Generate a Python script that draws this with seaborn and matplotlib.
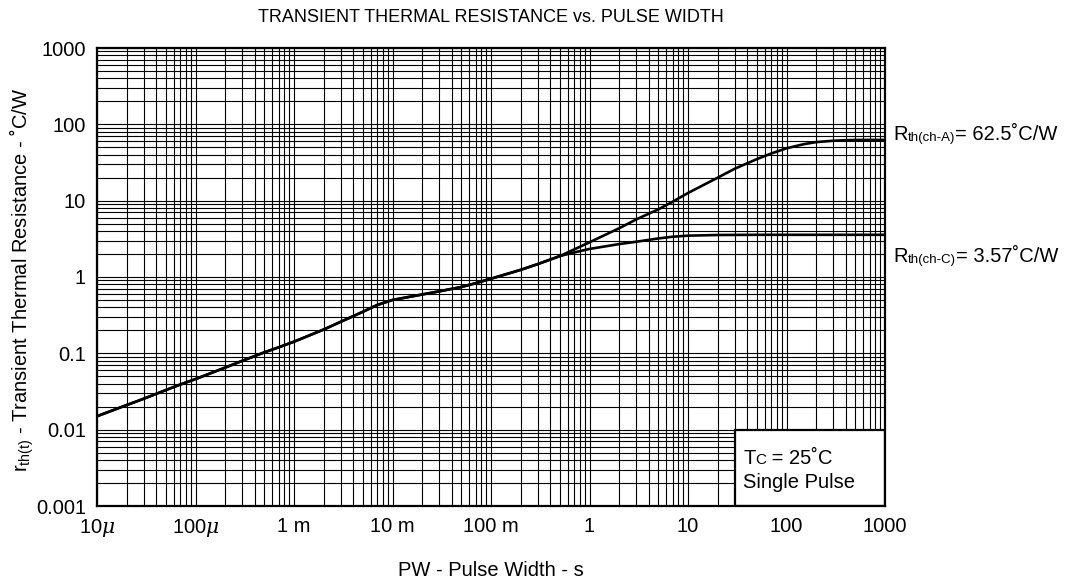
import matplotlib
matplotlib.use("Agg")
import matplotlib.pyplot as plt
import numpy as np
import pandas as pd
import seaborn as sns
from matplotlib.ticker import FixedLocator, FixedFormatter, LogLocator, NullFormatter
from matplotlib.offsetbox import TextArea, HPacker, AnnotationBbox
from matplotlib.patches import Rectangle

# ---- data ----
pw_common = [1e-5, 2e-5, 3e-5, 5e-5, 7e-5, 1e-4, 2e-4, 3e-4, 5e-4, 7e-4,
             1e-3, 2e-3, 3e-3, 5e-3, 7e-3, 1e-2, 2e-2, 3e-2, 5e-2, 7e-2,
             1e-1, 2e-1, 3e-1, 5e-1]
r_common = [0.015, 0.021, 0.0255, 0.033, 0.039, 0.046, 0.065, 0.080, 0.103, 0.120,
            0.142, 0.205, 0.26, 0.35, 0.43, 0.50, 0.59, 0.65, 0.74, 0.83,
            0.95, 1.24, 1.48, 1.88]

pw_ch_a = [0.7, 1, 2, 3, 5, 7, 10, 20, 30, 50, 70, 100, 150, 200, 300, 500, 1000]
r_ch_a = [2.3, 2.85, 4.35, 5.7, 7.7, 9.7, 12.6, 20.0, 26.3, 35, 41.5, 48.5, 55, 58.5, 61, 62.5, 62.5]

pw_ch_c = [0.7, 1, 2, 3, 5, 7, 10, 20, 50, 100, 1000]
r_ch_c = [2.1, 2.33, 2.7, 2.9, 3.2, 3.37, 3.48, 3.55, 3.57, 3.57, 3.57]

x_ticks = [1e-5, 1e-4, 1e-3, 1e-2, 1e-1, 1, 10, 100, 1000]
x_labels = [r"10$\mu$", r"100$\mu$", "1 m", "10 m", "100 m", "1", "10", "100", "1000"]
y_ticks = [0.001, 0.01, 0.1, 1, 10, 100, 1000]
y_labels = ["0.001", "0.01", "0.1", "1", "10", "100", "1000"]

title = "TRANSIENT THERMAL RESISTANCE vs. PULSE WIDTH"
xlabel = "PW - Pulse Width - s"
ylabel = r"r$_{\mathrm{th(t)}}$ - Transient Thermal Resistance - ˚C/W"

# ---- style ----
sns.set_style("white")
plt.rcParams['font.family'] = ['Liberation Sans', 'DejaVu Sans']
plt.rcParams['mathtext.fontset'] = 'custom'
plt.rcParams['mathtext.rm'] = 'Liberation Sans'
plt.rcParams['mathtext.it'] = 'DejaVu Serif:italic'
plt.rcParams['text.color'] = 'black'
plt.rcParams['axes.labelcolor'] = 'black'
plt.rcParams['xtick.color'] = 'black'
plt.rcParams['ytick.color'] = 'black'

FS = 14.5
W, H = 1068, 581
fig = plt.figure(figsize=(W / 100, H / 100), dpi=100)
L, R, T, B = 97, 885, 48, 506
ax = fig.add_axes([L / W, 1 - B / H, (R - L) / W, (B - T) / H])

df = pd.concat([
    pd.DataFrame({"pw": pw_common + pw_ch_a, "r": r_common + r_ch_a, "series": "ch-A"}),
    pd.DataFrame({"pw": pw_common + pw_ch_c, "r": r_common + r_ch_c, "series": "ch-C"}),
], ignore_index=True)

ax.set_xscale("log")
ax.set_yscale("log")
sns.lineplot(data=df, x="pw", y="r", hue="series", palette=["black", "black"],
             estimator=None, sort=False, legend=False, linewidth=1.9, ax=ax, zorder=4)
ax.set_xlabel("")
ax.set_ylabel("")

ax.set_xlim(1e-5, 1e3)
ax.set_ylim(1e-3, 1e3)
ax.xaxis.set_major_locator(FixedLocator(x_ticks))
ax.xaxis.set_major_formatter(FixedFormatter(x_labels))
ax.yaxis.set_major_locator(FixedLocator(y_ticks))
ax.yaxis.set_major_formatter(FixedFormatter(y_labels))
ax.xaxis.set_minor_locator(LogLocator(base=10, subs=range(2, 10), numticks=100))
ax.yaxis.set_minor_locator(LogLocator(base=10, subs=range(2, 10), numticks=100))
ax.xaxis.set_minor_formatter(NullFormatter())
ax.yaxis.set_minor_formatter(NullFormatter())
ax.tick_params(which="both", length=0, labelsize=FS, colors="black")
ax.tick_params(axis="x", pad=8)
ax.tick_params(axis="y", pad=8)

ax.set_axisbelow(True)
ax.grid(True, which="both", color="black", linewidth=0.8)
for s in ax.spines.values():
    s.set_color("black")
    s.set_linewidth(1.6)
    s.set_visible(True)

# condition box
ax.add_patch(Rectangle((30, 0.001), 1000 - 30, 0.01 - 0.001, facecolor="white",
                       edgecolor="black", linewidth=1.6, zorder=2))
tc = HPacker(children=[TextArea("T", textprops=dict(fontsize=FS)),
                       TextArea("C", textprops=dict(fontsize=11)),
                       TextArea(" = 25˚C", textprops=dict(fontsize=FS))],
             align="baseline", pad=0, sep=0)
ab = AnnotationBbox(tc, ((743 - L) / (R - L), (B - 458) / (B - T)), xycoords="axes fraction",
                    box_alignment=(0, 0.5), frameon=False, pad=0, zorder=5)
ax.add_artist(ab)
ax.text((743 - L) / (R - L), (B - 482) / (B - T), "Single Pulse", transform=ax.transAxes,
        fontsize=FS, ha="left", va="center", zorder=5)

# right-side annotations
def rlabel(sub, val, ypix):
    box = HPacker(children=[TextArea("R", textprops=dict(fontsize=FS)),
                            TextArea(sub, textprops=dict(fontsize=9.5)),
                            TextArea(val, textprops=dict(fontsize=FS))],
                  align="baseline", pad=0, sep=0)
    a = AnnotationBbox(box, ((893 - L) / (R - L), (B - ypix) / (B - T)),
                       xycoords="axes fraction", box_alignment=(0, 0.5),
                       frameon=False, pad=0, annotation_clip=False)
    ax.add_artist(a)

rlabel("th(ch-A)", "= 62.5˚C/W", 135)
rlabel("th(ch-C)", "= 3.57˚C/W", 257)

fig.text((L + R) / 2 / W, 1 - 18 / H, title, ha="center", va="center", fontsize=13)
fig.text((L + R) / 2 / W, 1 - 571 / H, xlabel, ha="center", va="center", fontsize=FS)
fig.text(22 / W, 1 - 280 / H, ylabel, ha="center", va="center", rotation=90, fontsize=FS)

fig.savefig("out.png", dpi=100)
